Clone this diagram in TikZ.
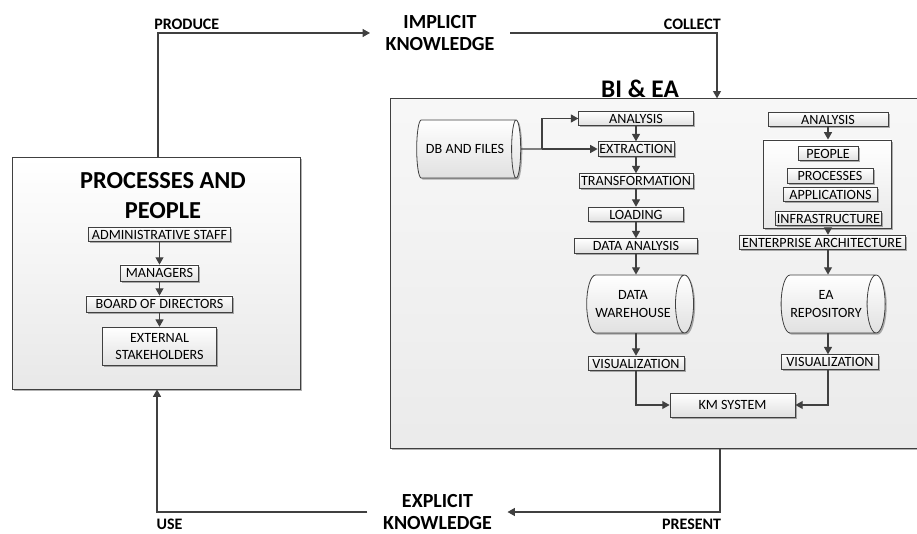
\documentclass[tikz,border=0pt]{standalone}
\usepackage{fontspec}
\setmainfont{Carlito}
\usepackage{xcolor}
\usepackage{tikz}
\usetikzlibrary{positioning}
\usetikzlibrary{arrows.meta}
\usetikzlibrary{shapes.geometric}
\usetikzlibrary{shadows}
\definecolor{lineGray}{HTML}{404040}

\begin{document}
\begin{tikzpicture}[x=0.75pt, y=-0.75pt]
		% ------- style -------
		\tikzset{%
			flow/.style={draw=lineGray, line width=0.8pt, -{Triangle[length=5.5pt, width=6pt]}},
			shadowed/.style={drop shadow={shadow xshift=1.2pt, shadow yshift=-1.2pt, fill=black, opacity=0.3}},
			stepbox/.style={draw=lineGray, line width=0.6pt, top color=white, bottom color=black!12, shadowed,
				font=\fontsize{10.6}{12.5}\selectfont, inner sep=1pt, minimum height=11pt},
			store/.style={cylinder, shape aspect=0.5, draw=lineGray, line width=0.6pt, top color=white, bottom color=black!12,
				shadowed, align=center, font=\fontsize{10.6}{13.5}\selectfont, minimum width=43.5pt, minimum height=78pt},
			group/.style={draw=lineGray, line width=0.7pt, top color=white, bottom color=black!9, shadowed},
			tag/.style={font=\bfseries\fontsize{12}{13}\selectfont, inner sep=1pt},
			knowledge/.style={font=\bfseries\fontsize{15}{16.5}\selectfont, align=center, inner xsep=11.5pt},
		}
		\useasboundingbox (0,0) rectangle (917,534);
		
		% ------- processes and people -------
		\node[group, minimum width=216pt, minimum height=174pt] (pp) at (156,273) {};
		\node[font=\bfseries\fontsize{18.3}{22}\selectfont, align=center] (pp-title) at (163,195.5) {PROCESSES AND\\PEOPLE};
		\node[stepbox, minimum width=107pt] (adm)   at (159.5,234.5) {ADMINISTRATIVE STAFF};
		\node[stepbox, minimum width=58.5pt, minimum height=12pt] (man) at (159.5,273) {MANAGERS};
		\node[stepbox, minimum width=110pt, minimum height=12pt] (board) at (159.5,304) {BOARD OF DIRECTORS};
		\node[stepbox, minimum width=85.5pt, minimum height=29pt, align=center] (ext) at (159.5,346.5) {EXTERNAL\\STAKEHOLDERS};
		\draw[flow] (adm) -- (man);
		\draw[flow] (man) -- (board);
		\draw[flow] (board) -- (ext);
		
		% ------- BI & EA -------
		\begin{scope}
			\clip (0,0) rectangle (917,534);
			\node[group, top color=black!3, bottom color=black!8, minimum width=405pt, minimum height=262pt] (bi) at (660,273.5) {};
		\end{scope}
		\node[font=\bfseries\fontsize{19}{22}\selectfont, anchor=south, inner sep=1pt] (bi-title) at (640,99) {BI \& EA};
		
		% business intelligence
		\node[store] (dbf) at (465,149) {DB AND FILES};
		\node[stepbox, minimum width=86pt] (ana1)  at (636,118.5) {ANALYSIS};
		\node[stepbox, minimum width=57pt] (extr)  at (636,149)   {EXTRACTION};
		\node[stepbox, minimum width=85.5pt] (trans) at (636,181) {TRANSFORMATION};
		\node[stepbox, minimum width=71pt] (load)  at (636,214.5) {LOADING};
		\node[stepbox, minimum width=92pt] (dana)  at (636,246)   {DATA ANALYSIS};
		\node[store] (dw) at (633,304) {DATA\\WAREHOUSE};
		\node[stepbox, minimum width=72pt] (vis1)  at (636,363.5) {VISUALIZATION};
		\coordinate (split) at (542,149);
		\draw[draw=lineGray, line width=0.8pt] (dbf.east) -- (split);
		\draw[flow] (split) |- (ana1.west);
		\draw[flow] (split) -- (extr.west);
		\draw[flow] (ana1) -- (extr);
		\draw[flow] (extr) -- (trans);
		\draw[flow] (trans) -- (load);
		\draw[flow] (load) -- (dana);
		\draw[flow] (dana.south) -- (dana.south |- dw.north);
		\draw[flow] (dw.south -| vis1.north) -- (vis1.north);
		
		% enterprise architecture
		\node[stepbox, minimum width=90pt] (ana2) at (828,119.5) {ANALYSIS};
		\node[group, minimum width=96pt, minimum height=66pt] (eabox) at (827,184) {};
		\node[stepbox, minimum width=45pt, minimum height=10pt] (people) at (828,153.5) {PEOPLE};
		\node[stepbox, minimum width=64.5pt] (procs) at (830,176)   {PROCESSES};
		\node[stepbox, minimum width=71pt]   (apps)  at (830.5,194.5) {APPLICATIONS};
		\node[stepbox, minimum width=80pt, minimum height=10pt] (infra) at (828.5,218.5) {INFRASTRUCTURE};
		\node[stepbox, minimum width=124.5pt] (entarch) at (822,242.5) {ENTERPRISE ARCHITECTURE};
		\node[store] (earep) at (826,304) {EA\\REPOSITORY};
		\node[stepbox, minimum width=72.75pt] (vis2) at (830,362) {VISUALIZATION};
		\coordinate (ea-col) at (828,0);
		\draw[flow] (ana2.south -| ea-col) -- (eabox.north -| ea-col);
		\draw[flow] (eabox.south -| ea-col) -- (entarch.north -| ea-col);
		\draw[flow] (entarch.south -| ea-col) -- (earep.north -| ea-col);
		\draw[flow] (earep.south -| ea-col) -- (vis2.north -| ea-col);
		
		\node[stepbox, minimum width=93.75pt, minimum height=18pt] (km) at (732.5,405) {KM SYSTEM};
		\draw[flow] (vis1.south) |- (km.west);
		\draw[flow] (vis2.south -| ea-col) |- (km.east);
		
		% ------- knowledge loop -------
		\node[knowledge] (impl) at (440,33)  {IMPLICIT\\KNOWLEDGE};
		\node[knowledge] (expl) at (437.5,512) {EXPLICIT\\KNOWLEDGE};
		\coordinate (c-produce) at (158,33);
		\coordinate (c-collect) at (717,33);
		\coordinate (c-present) at (720,512);
		\coordinate (c-use)     at (157,512);
		\draw[flow] (c-produce |- pp.north) -- (c-produce) -- (impl.west);
		\draw[flow] (impl.east) -- (c-collect) -- (c-collect |- bi.north);
		\draw[flow] (c-present |- bi.south) -- (c-present) -- (expl.east);
		\draw[flow] (expl.west) -- (c-use) -- (c-use |- pp.south);
		
		% ------- labels -------
		\node[tag, anchor=south west, xshift=-4pt, yshift=1.3pt] (produce) at (c-produce) {PRODUCE};
		\node[tag, anchor=south east, xshift=4pt, yshift=1.3pt]  (collect) at (c-collect) {COLLECT};
		\node[tag, anchor=north east, xshift=2pt, yshift=-4pt]   (present) at (c-present) {PRESENT};
		\node[tag, anchor=north west, xshift=-1.5pt, yshift=-4pt] (use)    at (c-use)     {USE};
\end{tikzpicture}
\end{document}
